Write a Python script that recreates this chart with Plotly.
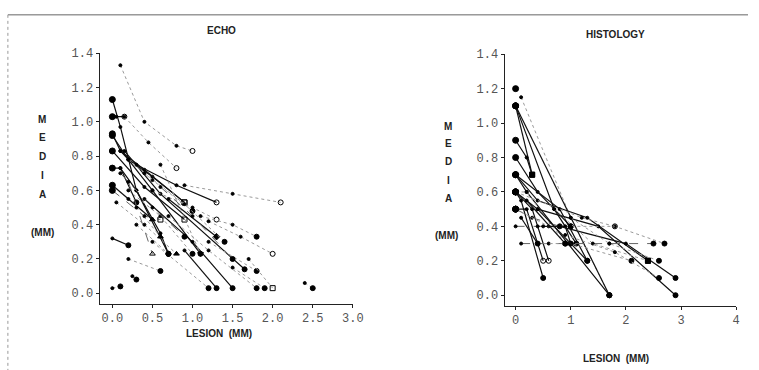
import plotly.graph_objects as go

W, H = 759, 370

# ---------------- data: ECHO panel (lesion vs media, one line per subject) ----------------
echo_x = [
    [0.0, 0.1, 0.3, 0.6, 0.7],
    [0.1, 0.4, 0.8, 1.0],
    [0.0, 0.05, 0.15],
    [0.15, 0.45, 0.8],
    [0.0, 0.1, 0.2, 0.5, 0.9],
    [0.0, 0.2, 0.5, 1.1],
    [0.1, 0.4, 0.9],
    [0.15, 0.6, 1.65],
    [0.0, 0.4, 0.9],
    [0.0, 0.1, 0.3],
    [0.1, 0.3, 0.7],
    [0.0, 0.2, 0.5],
    [0.4, 1.0, 1.5],
    [0.0, 0.2],
    [0.0, 0.1],
    [0.05, 0.4, 0.8],
    [0.3, 0.8, 1.3],
    [0.9, 1.5, 2.1],
    [0.5, 1.0, 1.3],
    [1.1, 1.5, 1.8],
    [0.7, 1.3],
    [1.2, 1.6, 2.0],
    [1.2, 1.8],
    [0.9, 1.3],
    [0.5, 1.2],
    [1.5, 1.9],
    [1.7, 2.0],
    [2.4, 2.5],
    [0.2, 0.6],
    [0.3, 0.7],
    [0.2, 0.6, 1.0],
    [0.2, 0.5],
    [0.3, 0.6],
    [0.6, 1.1],
    [0.0, 0.4, 0.6],
    [0.1, 0.5, 0.9],
    [0.7, 1.2, 1.8],
    [0.25, 0.3],
    [0.2, 0.5, 1.0],
    [0.4, 0.9, 1.4],
    [0.6, 1.0, 1.5],
]
echo_y = [
    [1.13, 0.97, 0.60, 0.35, 0.23],
    [1.33, 1.00, 0.86, 0.83],
    [1.03, 1.03, 1.03],
    [1.03, 0.88, 0.73],
    [0.93, 0.83, 0.78, 0.68, 0.53],
    [0.92, 0.78, 0.60, 0.23],
    [0.83, 0.72, 0.53],
    [0.83, 0.58, 0.14],
    [0.83, 0.62, 0.43],
    [0.73, 0.73, 0.53],
    [0.73, 0.60, 0.23],
    [0.63, 0.55, 0.43],
    [0.55, 0.30, 0.03],
    [0.32, 0.28],
    [0.03, 0.04],
    [0.53, 0.40, 0.23],
    [0.75, 0.63, 0.53],
    [0.63, 0.58, 0.53],
    [0.60, 0.50, 0.43],
    [0.45, 0.40, 0.33],
    [0.55, 0.33],
    [0.42, 0.33, 0.23],
    [0.30, 0.13],
    [0.25, 0.03],
    [0.30, 0.03],
    [0.15, 0.03],
    [0.20, 0.03],
    [0.06, 0.03],
    [0.20, 0.13],
    [0.40, 0.23],
    [0.60, 0.45, 0.23],
    [0.65, 0.23],
    [0.50, 0.33],
    [0.75, 0.23],
    [0.60, 0.45, 0.43],
    [0.70, 0.50, 0.33],
    [0.45, 0.25, 0.03],
    [0.10, 0.08],
    [0.78, 0.66, 0.48],
    [0.70, 0.52, 0.30],
    [0.62, 0.45, 0.20],
]
echo_line = ["solid", "dot", "solid", "dot", "solid", "solid", "solid", "solid", "solid",
             "solid", "solid", "solid", "solid", "solid", "dot", "dot", "solid", "dot",
             "dot", "dot", "solid", "dot", "dot", "solid", "dot", "dot", "dot", "dot",
             "dot", "dot", "dot", "dash", "dot", "dot", "dash", "dash", "dot", "dot",
             "dot", "dot", "dash"]
echo_end = ["circle", "circle-open", "circle-open", "circle-open", "square-open", "triangle-down",
            "square-open", "circle", "square-open", "circle", "circle", "triangle-up", "circle",
            "circle", "circle", "triangle-up", "circle-open", "circle-open", "circle-open",
            "circle", "diamond", "circle-open", "circle", "circle", "circle", "circle",
            "square-open", "circle", "circle", "circle", "circle", "triangle-up-open",
            "triangle-up", "circle", "square-open", "circle", "circle", "circle",
            "circle", "circle", "circle"]

# ---------------- data: HISTOLOGY panel ----------------
hist_x = [
    [0.0],
    [0.1, 1.0, 1.7],
    [0.0, 0.3],
    [0.0, 1.7],
    [0.0, 0.7, 1.1],
    [0.0, 0.2, 0.3],
    [0.0, 0.4, 1.0],
    [0.0, 0.2, 1.7],
    [0.0, 0.8, 1.3],
    [0.0, 0.4, 1.3, 2.4],
    [0.0, 0.3, 0.6],
    [0.0, 0.1, 0.5],
    [0.0, 0.2, 0.9],
    [0.0, 0.4, 1.5, 2.9],
    [0.0, 0.2, 0.5],
    [0.0, 0.3, 0.8],
    [0.0, 0.6, 1.8, 2.7],
    [0.0, 0.4, 1.0],
    [0.1, 0.6, 1.7, 2.5],
    [0.4, 1.0, 2.1],
    [0.5, 0.9, 1.0],
    [0.8, 2.0, 2.9],
    [1.0, 1.7, 2.6],
    [0.7, 1.4, 2.4],
    [0.9, 1.8, 2.6],
    [0.2, 0.9],
    [0.4, 1.3],
    [0.1, 0.4],
    [0.0, 1.2, 1.8],
]
hist_y = [
    [1.2],
    [1.15, 0.45, 0.0],
    [1.1, 0.7],
    [1.1, 0.0],
    [1.1, 0.5, 0.3],
    [0.9, 0.8, 0.7],
    [0.8, 0.6, 0.4],
    [0.7, 0.6, 0.0],
    [0.7, 0.5, 0.2],
    [0.7, 0.55, 0.45, 0.2],
    [0.6, 0.5, 0.2],
    [0.6, 0.55, 0.1],
    [0.6, 0.6, 0.3],
    [0.6, 0.5, 0.4, 0.0],
    [0.5, 0.5, 0.2],
    [0.5, 0.45, 0.4],
    [0.5, 0.4, 0.4, 0.3],
    [0.4, 0.4, 0.4],
    [0.3, 0.3, 0.3, 0.3],
    [0.3, 0.3, 0.2],
    [0.4, 0.4, 0.3],
    [0.4, 0.3, 0.1],
    [0.45, 0.3, 0.2],
    [0.5, 0.3, 0.2],
    [0.35, 0.25, 0.1],
    [0.55, 0.3],
    [0.5, 0.2],
    [0.45, 0.3],
    [0.6, 0.45, 0.4],
]
hist_line = ["solid", "dot", "solid", "solid", "solid", "solid", "solid", "solid", "solid",
             "solid", "solid", "solid", "dot", "solid", "solid", "dash", "dot", "dash",
             "dash", "dot", "solid", "solid", "dot", "dot", "dot", "solid", "solid", "solid",
             "dot"]
hist_end = ["circle", "circle", "square", "circle", "circle", "square", "circle", "circle",
            "circle", "square", "circle-open", "circle", "circle", "circle", "circle-open",
            "circle", "circle", "circle", "circle", "circle", "circle", "circle", "circle",
            "square", "circle", "circle", "circle", "circle", "circle-open"]

echo_title = "ECHO"
hist_title = "HISTOLOGY"
x_title = "LESION  (MM)"
y_letters = ["M", "E", "D", "I", "A"]
y_unit = "(MM)"

echo_yticks = [0.0, 0.2, 0.4, 0.6, 0.8, 1.0, 1.2, 1.4]
echo_xticks = [0.0, 0.5, 1.0, 1.5, 2.0, 2.5, 3.0]
hist_xticks = [0, 1, 2, 3, 4]

# ---------------- figure ----------------
fig = go.Figure()

def px(x):
    return x / W

def py(y):
    return 1 - y / H

line_colors = {"solid": "#111111", "dot": "#9a9a9a", "dash": "#666666"}
line_widths = {"solid": 1.2, "dot": 1.0, "dash": 1.0}

def add_panel(xs, ys, styles, ends, xa, ya):
    for xv, yv, st, en in zip(xs, ys, styles, ends):
        n = len(xv)
        syms = ["circle"] * (n - 1) + [en]
        sizes = []
        for i in range(n):
            if i == 0:
                sizes.append(6 if (xv[0] == 0 and yv[0] >= 0.45) else 3)
            elif i == n - 1:
                sizes.append(5)
            else:
                sizes.append(3)
        fig.add_trace(go.Scatter(
            x=xv, y=yv, mode="lines+markers", xaxis=xa, yaxis=ya,
            line=dict(color=line_colors[st], width=line_widths[st], dash=st),
            marker=dict(symbol=syms, size=sizes, color="#000000", opacity=1,
                        line=dict(color="#000000", width=1)),
            opacity=1, showlegend=False, hoverinfo="x+y"))

add_panel(echo_x, echo_y, echo_line, echo_end, "x", "y")
add_panel(hist_x, hist_y, hist_line, hist_end, "x2", "y2")

tickfont = dict(family="Liberation Mono", size=12, color="#555555")
axis_common = dict(showgrid=False, zeroline=False, showline=True, linecolor="#222222",
                   linewidth=1, ticks="outside", ticklen=3, tickcolor="#222222",
                   tickfont=tickfont)

fig.update_layout(
    width=W, height=H, margin=dict(l=0, r=0, t=0, b=0),
    paper_bgcolor="white", plot_bgcolor="white",
    xaxis=dict(domain=[px(101), px(358)], range=[-0.16, 3.0], tickvals=echo_xticks,
               ticktext=[f"{v:.1f}" for v in echo_xticks], anchor="y", **axis_common),
    yaxis=dict(domain=[py(303), py(48)], range=[-0.063, 1.4], tickvals=echo_yticks,
               ticktext=[f"{v:.1f}" for v in echo_yticks], anchor="x", **axis_common),
    xaxis2=dict(domain=[px(512), px(747)], range=[-0.2, 4.0], tickvals=hist_xticks,
                anchor="y2", **axis_common),
    yaxis2=dict(domain=[py(305), py(49)], range=[-0.063, 1.4], tickvals=echo_yticks,
                ticktext=[f"{v:.1f}" for v in echo_yticks], anchor="x2", **axis_common),
)

lab = dict(family="Liberation Sans", size=10, color="#222222")
annos = [
    dict(text="<b>" + echo_title + "</b>", x=px(225), y=py(25)),
    dict(text="<b>" + hist_title + "</b>", x=px(625), y=py(29)),
    dict(text="<b>" + x_title + "</b>", x=px(222), y=py(333)),
    dict(text="<b>" + x_title + "</b>", x=px(625), y=py(358)),
    dict(text="<b>" + y_unit + "</b>", x=px(43), y=py(230)),
    dict(text="<b>" + y_unit + "</b>", x=px(453), y=py(233)),
]
left_letter_y = [115, 134, 153, 172, 192]
right_letter_y = [122, 140, 158, 177, 196]
for ch, yy in zip(y_letters, left_letter_y):
    annos.append(dict(text="<b>" + ch + "</b>", x=px(43), y=py(yy)))
for ch, yy in zip(y_letters, right_letter_y):
    annos.append(dict(text="<b>" + ch + "</b>", x=px(455), y=py(yy)))
for a in annos:
    fig.add_annotation(xref="paper", yref="paper", showarrow=False, xanchor="center",
                       yanchor="middle", font=lab, **a)

# scanned frame lines
fig.add_shape(type="line", xref="paper", yref="paper", x0=px(8), x1=1, y0=py(9), y1=py(9),
              line=dict(color="#666666", width=1))
fig.add_shape(type="line", xref="paper", yref="paper", x0=px(8), x1=px(8), y0=py(9), y1=0,
              line=dict(color="#999999", width=1, dash="dot"))

fig.write_html("out.html")
